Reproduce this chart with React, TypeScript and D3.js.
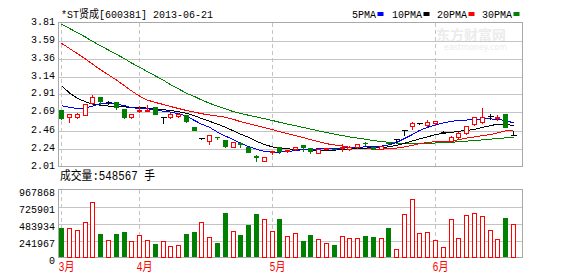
import React from "react";
import * as d3 from "d3";

const title = "*ST贤成[600381] 2013-06-21";
const volumeTitle = "成交量:548567 手";

const opens = [2.72,2.63,2.635,2.655,2.80,2.885,2.815,2.815,2.73,2.625,2.70,2.715,2.75,2.625,2.625,2.645,2.65,2.51,2.37,2.325,2.38,2.345,2.26,2.305,2.26,2.145,2.085,2.205,2.255,2.20,2.225,2.275,2.24,2.18,2.23,2.235,2.24,2.23,2.25,2.31,2.26,2.235,2.32,2.355,2.47,2.52,2.55,2.525,2.56,2.445,2.335,2.385,2.43,2.54,2.565,2.64,2.615,2.67,2.40];
const highs = [2.73,2.68,2.69,2.79,2.92,2.89,2.845,2.82,2.735,2.68,2.775,2.79,2.76,2.625,2.69,2.69,2.67,2.51,2.375,2.405,2.39,2.345,2.33,2.335,2.26,2.16,2.145,2.22,2.27,2.225,2.27,2.275,2.245,2.235,2.245,2.245,2.30,2.28,2.29,2.33,2.265,2.28,2.33,2.355,2.47,2.585,2.57,2.60,2.59,2.465,2.40,2.45,2.52,2.635,2.75,2.68,2.67,2.675,2.465];
const lows = [2.61,2.565,2.62,2.65,2.79,2.795,2.785,2.73,2.615,2.62,2.69,2.71,2.66,2.55,2.62,2.63,2.565,2.47,2.36,2.295,2.36,2.26,2.25,2.25,2.19,2.085,2.075,2.17,2.18,2.19,2.22,2.21,2.18,2.175,2.225,2.225,2.21,2.215,2.245,2.28,2.23,2.23,2.29,2.315,2.40,2.475,2.535,2.515,2.53,2.425,2.32,2.36,2.42,2.53,2.555,2.60,2.595,2.505,2.40];
const closes = [2.62,2.665,2.67,2.785,2.875,2.825,2.815,2.76,2.625,2.67,2.715,2.72,2.67,2.625,2.67,2.67,2.585,2.47,2.37,2.40,2.375,2.265,2.315,2.295,2.19,2.13,2.135,2.21,2.21,2.22,2.26,2.26,2.20,2.23,2.24,2.23,2.26,2.25,2.285,2.30,2.235,2.27,2.30,2.355,2.47,2.555,2.55,2.565,2.575,2.445,2.385,2.43,2.515,2.635,2.635,2.64,2.63,2.505,2.40];
const volumes = [417000,427000,398000,512000,797000,332000,242000,332000,370000,228000,327000,242000,190000,228000,157000,171000,332000,356000,512000,285000,204000,631000,384000,318000,460000,617000,541000,384000,555000,313000,346000,228000,327000,266000,209000,185000,313000,280000,280000,313000,285000,280000,413000,124000,622000,835000,351000,366000,252000,152000,551000,280000,598000,636000,584000,394000,266000,569000,470000];

const ma5 = [2.77,2.75,2.735,2.74,2.765,2.795,2.80,2.79,2.77,2.745,2.735,2.73,2.72,2.70,2.69,2.67,2.64,2.585,2.54,2.50,2.44,2.39,2.345,2.30,2.26,2.225,2.20,2.19,2.19,2.195,2.21,2.22,2.225,2.23,2.23,2.235,2.24,2.245,2.25,2.255,2.26,2.265,2.28,2.31,2.36,2.41,2.46,2.50,2.53,2.555,2.575,2.585,2.59,2.60,2.605,2.605,2.60,2.585,2.555];
const ma10 = [3.02,2.93,2.86,2.82,2.79,2.775,2.765,2.76,2.755,2.75,2.745,2.74,2.73,2.72,2.71,2.695,2.675,2.645,2.61,2.575,2.54,2.50,2.455,2.415,2.375,2.325,2.285,2.255,2.24,2.23,2.225,2.22,2.215,2.21,2.21,2.215,2.22,2.225,2.235,2.24,2.245,2.25,2.255,2.275,2.30,2.33,2.355,2.38,2.41,2.425,2.435,2.45,2.46,2.475,2.50,2.52,2.54,2.54,2.52];
const ma20 = [3.55,3.485,3.42,3.355,3.29,3.22,3.155,3.09,3.02,2.955,2.89,2.84,2.81,2.785,2.76,2.735,2.71,2.69,2.67,2.655,2.64,2.625,2.60,2.57,2.545,2.52,2.495,2.47,2.445,2.42,2.395,2.37,2.345,2.32,2.295,2.28,2.265,2.25,2.24,2.232,2.228,2.228,2.232,2.24,2.255,2.275,2.295,2.31,2.32,2.325,2.33,2.345,2.365,2.38,2.395,2.41,2.43,2.455,2.46];
const ma30 = [3.79,3.736,3.682,3.628,3.574,3.52,3.466,3.412,3.358,3.304,3.25,3.196,3.142,3.088,3.034,2.98,2.926,2.884,2.842,2.80,2.765,2.73,2.695,2.673,2.651,2.629,2.607,2.585,2.563,2.541,2.519,2.498,2.477,2.456,2.435,2.414,2.396,2.38,2.366,2.35,2.335,2.322,2.312,2.303,2.298,2.296,2.297,2.30,2.304,2.308,2.313,2.32,2.327,2.335,2.343,2.352,2.36,2.368,2.376];

const priceTicks = [2.01, 2.235, 2.46, 2.685, 2.91, 3.135, 3.36, 3.585, 3.81];
const priceTickLabels = ["2.01", "2.24", "2.46", "2.69", "2.91", "3.14", "3.36", "3.59", "3.81"];
const volumeTicks = [0, 241967, 483934, 725901, 967868];
const volumeTickLabels = ["0", "241967", "483934", "725901", "967868"];
const monthLabels = ["3月", "4月", "5月", "6月"];
const monthStartIndex = [0, 10, 27, 48];
const legendNames = ["5PMA", "10PMA", "20PMA", "30PMA"];

const RED = "#FF0000";
const GREEN = "#008000";
const BLUE = "#0000FF";
const BLACK = "#000000";
const legendColors = [BLUE, BLACK, RED, GREEN];
const maSeries = [ma5, ma10, ma20, ma30];

const W = 578;
const H = 276;
const L = 58.5;
const R = 522.5;
const pTop = 22.5;
const pBot = 166.5;
const vTop = 189.5;
const vBot = 257.5;

const MONO = "'Liberation Mono', 'DejaVu Sans Mono', 'Noto Sans CJK SC', monospace";
const CJK = "'Noto Sans CJK SC', 'Liberation Mono', sans-serif";

export default function App() {
  const n = closes.length;
  const x = d3.scaleLinear().domain([0, n - 1]).range([61.3, 512.9]);
  const cx = (i: number) => Math.round(x(i)) + 0.5;
  const y = d3.scaleLinear().domain([priceTicks[0], priceTicks[priceTicks.length - 1]]).range([pBot, pTop]);
  const py = (v: number) => Math.round(y(v)) + 0.5;
  const vy = d3.scaleLinear().domain([0, volumeTicks[volumeTicks.length - 1]]).range([vBot, vTop]);

  const line = (arr: number[]) =>
    d3.line<number>().x((_, i) => cx(i)).y((v) => y(v))(arr) || "";

  const monthXs = monthStartIndex.map((i) => cx(i));

  return (
    <svg width={W} height={H} style={{ position: "absolute", left: 0, top: 0, background: "#fff" }}>
      <rect x={0} y={0} width={W} height={H} fill="#fff" />
      {/* watermark */}
      <text x={436} y={40} fontSize={14} fill="#ececec" fontFamily={CJK} fontWeight="bold">东方财富网</text>
      <text x={444} y={50} fontSize={8} fill="#ececec" fontFamily="'DejaVu Sans', sans-serif">eastmoney.com</text>

      {/* title */}
      <text x={61} y={18} fontSize={11.5} fill="#000" fontFamily={MONO} textLength={152} lengthAdjust="spacingAndGlyphs">{title}</text>

      {/* legend */}
      {legendNames.map((name, k) => {
        const xs = [352, 392, 437, 482];
        const ws = [24, 30, 30, 30];
        return (
          <g key={name}>
            <text x={xs[k]} y={18} fontSize={11.5} fill="#000" fontFamily={MONO} textLength={ws[k]} lengthAdjust="spacingAndGlyphs">{name}</text>
            <rect x={xs[k] + ws[k] + 1.5} y={12} width={6} height={4} fill={legendColors[k]} />
          </g>
        );
      })}

      {/* price grid */}
      <g shapeRendering="crispEdges">
        {priceTicks.slice(1, -1).map((t) => (
          <line key={t} x1={L} x2={R} y1={py(t)} y2={py(t)} stroke="#C4C4C4" />
        ))}
        {monthXs.map((mx, k) => (
          <line key={"pv" + k} x1={mx} x2={mx} y1={pTop} y2={pBot} stroke="#C4C4C4" strokeDasharray="4,3" />
        ))}
        {volumeTicks.slice(1, -1).map((t) => (
          <line key={"vg" + t} x1={L} x2={R} y1={Math.round(vy(t)) + 0.5} y2={Math.round(vy(t)) + 0.5} stroke="#C4C4C4" />
        ))}
        {monthXs.map((mx, k) => (
          <line key={"vv" + k} x1={mx} x2={mx} y1={vTop} y2={vBot} stroke="#C4C4C4" strokeDasharray="4,3" />
        ))}
        <rect x={L} y={pTop} width={R - L} height={pBot - pTop} fill="none" stroke="#A8A8A8" />
        <rect x={L} y={vTop} width={R - L} height={vBot - vTop} fill="none" stroke="#A8A8A8" />
      </g>

      {/* price axis labels */}
      {priceTicks.map((t, k) => (
        <text key={"pl" + t} x={55} y={py(t) + 1.5} fontSize={10} textAnchor="end" fill="#000" fontFamily={MONO}>{priceTickLabels[k]}</text>
      ))}
      {/* volume axis labels */}
      {volumeTicks.map((t, k) => (
        <text key={"vl" + t} x={55} y={Math.round(vy(t)) + 6} fontSize={10} textAnchor="end" fill="#000" fontFamily={MONO}>{volumeTickLabels[k]}</text>
      ))}

      {/* MA lines */}
      <g shapeRendering="crispEdges" fill="none">
        {[3, 2, 1, 0].map((k) => (
          <path key={"ma" + k} d={line(maSeries[k])} stroke={legendColors[k]} strokeWidth={1} />
        ))}
      </g>

      {/* candles */}
      <g shapeRendering="crispEdges">
        {closes.map((c, i) => {
          const o = opens[i];
          const X = cx(i);
          const yh = py(highs[i]);
          const yl = py(lows[i]);
          const yo = py(o);
          const yc = py(c);
          if (c > o) {
            return (
              <g key={"c" + i}>
                <line x1={X} x2={X} y1={yh} y2={yl} stroke={RED} />
                <rect x={X - 2} y={yc} width={4} height={Math.max(yo - yc, 1)} fill="#fff" stroke={RED} />
              </g>
            );
          } else if (c < o) {
            return (
              <g key={"c" + i}>
                <line x1={X} x2={X} y1={yh} y2={yl} stroke={GREEN} />
                <rect x={X - 2.5} y={yo - 0.5} width={5} height={Math.max(yc - yo + 1, 1)} fill={GREEN} />
              </g>
            );
          }
          return (
            <g key={"c" + i}>
              <line x1={X} x2={X} y1={yh} y2={yl} stroke={BLACK} />
              <line x1={X - 3} x2={X + 3} y1={yo} y2={yo} stroke={BLACK} />
            </g>
          );
        })}
      </g>

      {/* volume */}
      <g shapeRendering="crispEdges">
        {volumes.map((v, i) => {
          const X = cx(i);
          const top = Math.round(vy(v)) + 0.5;
          if (closes[i] < opens[i]) {
            return <rect key={"v" + i} x={X - 2.5} y={top - 0.5} width={5} height={vBot - top} fill={GREEN} />;
          }
          return <rect key={"v" + i} x={X - 2} y={top} width={4} height={vBot - top} fill="#fff" stroke={RED} />;
        })}
      </g>

      {/* volume title */}
      <text x={60} y={180} fontSize={12} fill="#000" fontFamily={MONO} textLength={95} lengthAdjust="spacingAndGlyphs">{volumeTitle}</text>

      {/* month labels */}
      {monthLabels.map((m, k) => (
        <text key={m} x={monthXs[k] - 3} y={271} fontSize={12} fill={RED} fontFamily={MONO} textLength={16} lengthAdjust="spacingAndGlyphs">{m}</text>
      ))}
    </svg>
  );
}
